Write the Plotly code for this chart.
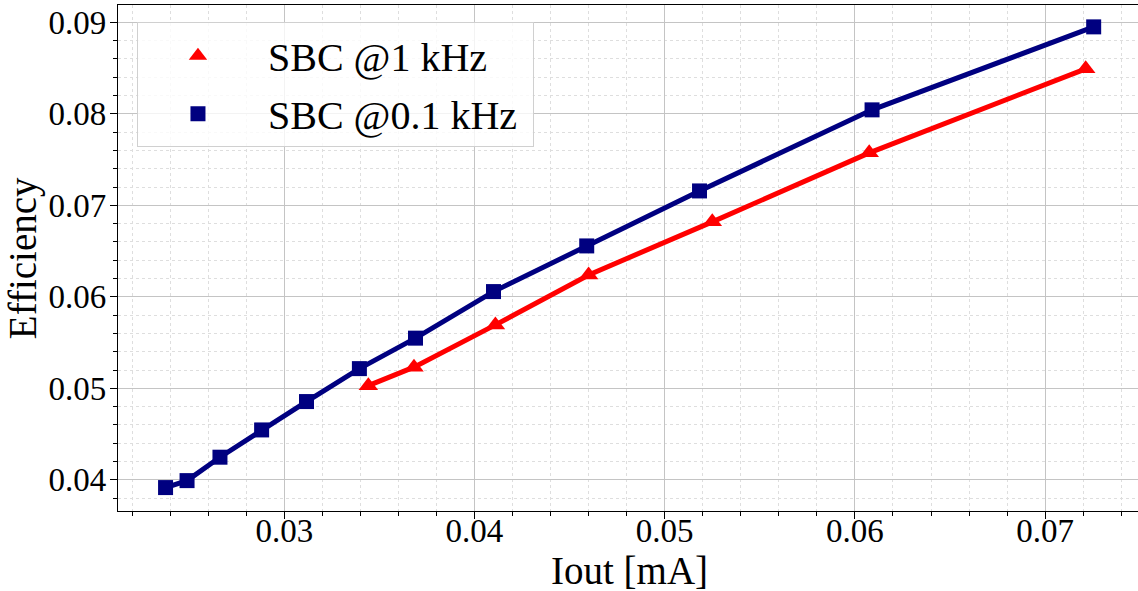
import plotly.graph_objects as go

# Iout [mA] and efficiency for each switching frequency
iout_1k = [0.03442, 0.03682, 0.0411, 0.0460, 0.0525, 0.06075, 0.07213]
eff_1k = [0.0503, 0.05232, 0.05694, 0.0624, 0.0682, 0.07574, 0.08492]

iout_01k = [0.02376, 0.02489, 0.02662, 0.02881, 0.03117, 0.03395,
            0.0369, 0.0410, 0.0459, 0.05183, 0.0609, 0.07255]
eff_01k = [0.03916, 0.03992, 0.04248, 0.04546, 0.04856, 0.05216,
           0.05549, 0.06058, 0.06557, 0.07158, 0.08044, 0.08951]

x_ticks = [0.03, 0.04, 0.05, 0.06, 0.07]
y_ticks = [0.04, 0.05, 0.06, 0.07, 0.08, 0.09]

RED = '#ff0000'
NAVY = '#000080'
FONT = 'Liberation Serif'

fig = go.Figure()

fig.add_trace(go.Scatter(
    x=iout_1k, y=eff_1k, mode='lines+markers', name='SBC @1 kHz',
    line=dict(color=RED, width=5),
    marker=dict(symbol='triangle-up', color=RED, size=17),
    showlegend=False
))
fig.add_trace(go.Scatter(
    x=iout_01k, y=eff_01k, mode='lines+markers', name='SBC @0.1 kHz',
    line=dict(color=NAVY, width=5),
    marker=dict(symbol='square', color=NAVY, size=15),
    showlegend=False
))

# legend entries show only the marker, like the original
# (non-breaking spaces widen the marker/text gap and the right padding)
fig.add_trace(go.Scatter(
    x=[None], y=[None], mode='markers', name='\u00a0SBC @1 kHz', legendgroup='a',
    marker=dict(symbol='triangle-up', color=RED, size=17)
))
fig.add_trace(go.Scatter(
    x=[None], y=[None], mode='markers', name='\u00a0SBC @0.1 kHz\u00a0', legendgroup='b',
    marker=dict(symbol='square', color=NAVY, size=15)
))

axis_common = dict(
    showline=True, linecolor='black', linewidth=1.2,
    ticks='outside', ticklen=7, tickwidth=1.2, tickcolor='black',
    showgrid=True, gridcolor='#c4c4c4', gridwidth=1.3,
    zeroline=False, automargin=False,
    tickfont=dict(family=FONT, size=33, color='black'),
)

fig.update_xaxes(
    **axis_common,
    range=[0.02126, 0.07488], tickvals=x_ticks, ticktext=[f'{v:.2f}' for v in x_ticks],
    mirror=True, ticklabelstandoff=-17,
    minor=dict(dtick=0.002, tick0=0.02, ticks='outside', ticklen=4, tickcolor='black',
               showgrid=True, gridcolor='#dedede', griddash='dot', gridwidth=1),
)
fig.update_yaxes(
    **axis_common,
    range=[0.0366, 0.0919], tickvals=y_ticks, ticktext=[f'{v:.2f}' for v in y_ticks],
    ticklabelstandoff=-3,
    minor=dict(dtick=0.002, tick0=0.03, ticks='outside', ticklen=4, tickcolor='black',
               showgrid=True, gridcolor='#dedede', griddash='dot', gridwidth=1),
)

# axis titles placed as annotations for exact positioning
fig.add_annotation(text='Iout [mA]', xref='paper', yref='paper', x=0.501, y=-0.117,
                   xanchor='center', yanchor='middle', showarrow=False,
                   font=dict(family=FONT, size=39, color='black'))
fig.add_annotation(text='Efficiency', xref='paper', yref='paper', x=-0.093, y=0.5,
                   xanchor='center', yanchor='middle', showarrow=False, textangle=-90,
                   font=dict(family=FONT, size=39, color='black'))

fig.update_layout(
    width=1138, height=591,
    margin=dict(l=118, r=0, t=5, b=80),
    plot_bgcolor='white', paper_bgcolor='white',
    font=dict(family=FONT, color='black'),
    legend=dict(
        x=0.0186, y=0.966, xanchor='left', yanchor='top',
        bgcolor='rgba(255,255,255,0.8)', bordercolor='#d0d0d0', borderwidth=1,
        font=dict(family=FONT, size=40, color='black'),
        itemwidth=110, tracegroupgap=3,
    ),
)

# drop the default page margin so the figure sits at the window's corner
fig.write_html('out.html', config={'displayModeBar': False},
               post_script="document.body.style.margin='0';")
